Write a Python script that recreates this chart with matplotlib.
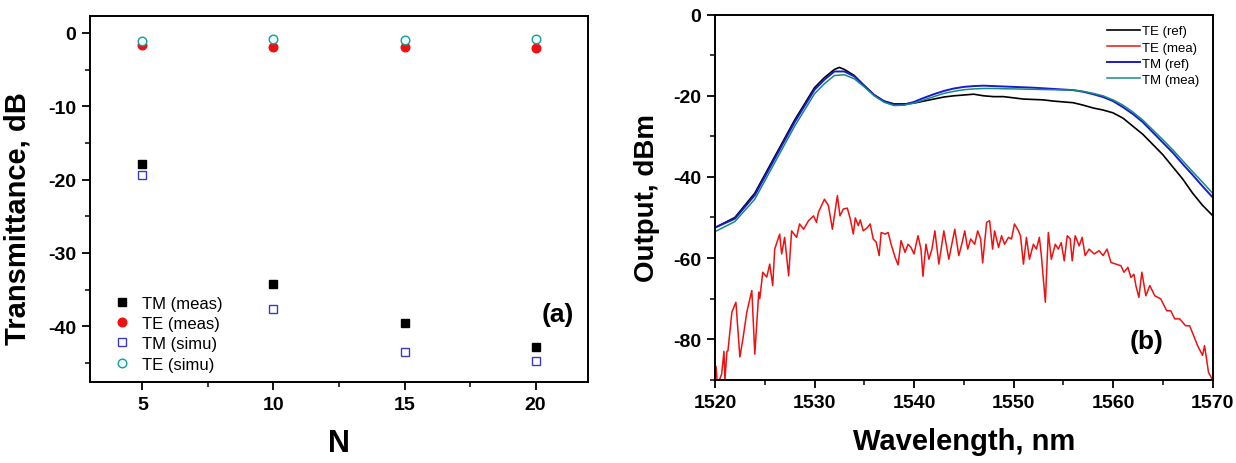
import matplotlib
matplotlib.use("Agg")
import matplotlib.pyplot as plt
from matplotlib.ticker import MultipleLocator

plt.rcParams['font.family'] = ['Liberation Sans', 'DejaVu Sans']
plt.rcParams['axes.unicode_minus'] = False

# ---------------- Panel (a) data ----------------
N = [5, 10, 15, 20]
tm_meas = [-17.9, -34.3, -39.5, -42.8]
te_meas = [-1.6, -1.9, -1.95, -2.1]
tm_simu = [-19.4, -37.6, -43.5, -44.7]
te_simu = [-1.1, -0.8, -0.95, -0.8]

# ---------------- Panel (b) data ----------------
wl_te_ref = [1520, 1522, 1524, 1526, 1528, 1530, 1531, 1532, 1532.5, 1533, 1534, 1535, 1536,
             1537, 1538, 1539, 1540, 1541, 1542, 1543, 1544, 1545, 1546, 1547, 1548, 1549,
             1550, 1551, 1552, 1553, 1554, 1555, 1556, 1557, 1558, 1559, 1560, 1561, 1562,
             1563, 1564, 1565, 1566, 1567, 1568, 1569, 1570]
te_ref = [-52.5, -50.0, -44.0, -35.0, -26.0, -18.0, -15.5, -13.5, -13.0, -13.5, -15.0, -17.5, -19.8,
          -21.3, -22.0, -22.0, -21.8, -21.3, -20.8, -20.3, -20.0, -19.8, -19.6, -20.0, -20.2, -20.2,
          -20.5, -20.8, -20.9, -21.0, -21.3, -21.5, -21.7, -22.3, -23.0, -23.5, -24.2, -25.5, -27.5,
          -29.5, -32.0, -34.5, -37.5, -40.5, -44.0, -47.0, -49.5]

wl_tm = [1520, 1522, 1524, 1526, 1528, 1530, 1531, 1532, 1533, 1534, 1535, 1536, 1537, 1538,
         1539, 1540, 1541, 1542, 1543, 1544, 1545, 1546, 1547, 1548, 1549, 1550, 1552, 1554,
         1556, 1557, 1558, 1559, 1560, 1561, 1562, 1563, 1564, 1565, 1566, 1567, 1568, 1569, 1570]
tm_ref = [-52.5, -50.3, -44.5, -35.5, -26.5, -18.5, -16.0, -14.0, -14.0, -15.2, -17.5, -19.8, -21.4, -22.2,
          -22.2, -21.5, -20.5, -19.6, -18.8, -18.2, -17.8, -17.6, -17.5, -17.6, -17.7, -17.8, -18.0, -18.3,
          -18.6, -19.0, -19.6, -20.3, -21.3, -22.8, -24.5, -26.5, -29.0, -31.5, -34.0, -36.8, -39.5, -42.3, -45.0]
tm_mea = [-53.5, -51.0, -45.5, -36.5, -27.5, -19.5, -17.0, -15.0, -14.8, -15.8, -17.8, -20.0, -21.6, -22.4,
          -22.3, -21.8, -21.0, -20.2, -19.4, -18.9, -18.5, -18.3, -18.2, -18.2, -18.25, -18.3, -18.4, -18.5,
          -18.6, -18.9, -19.4, -20.0, -21.0, -22.3, -24.0, -26.0, -28.4, -30.8, -33.3, -36.0, -38.7, -41.3, -44.0]

wl_te_mea = [1520.0, 1520.1, 1520.2, 1520.45, 1520.67, 1520.9, 1521.0, 1521.2, 1521.3, 1521.7,
             1522.1, 1522.5, 1522.8, 1523.2, 1523.7, 1524.0, 1524.4, 1524.5, 1524.8, 1525.2,
             1525.5, 1525.8, 1526.0, 1526.5, 1526.7, 1527.0, 1527.4, 1527.7, 1528.2, 1528.5,
             1528.9, 1529.4, 1529.9, 1530.2, 1530.4, 1531.0, 1531.4, 1531.8, 1532.3,
             1532.56, 1532.9, 1533.3, 1533.6, 1533.9, 1534.1, 1534.4, 1534.6, 1534.9, 1535.3,
             1535.6, 1535.9, 1536.2, 1536.5, 1536.7, 1537.1, 1537.4, 1537.7, 1538.1, 1538.4,
             1538.7, 1539.1, 1539.4, 1539.7, 1540.0, 1540.4, 1540.7, 1540.9, 1541.2, 1541.5,
             1541.8, 1542.1, 1542.5, 1543.0, 1543.5, 1543.8, 1544.1, 1544.5, 1544.8, 1545.1,
             1545.4, 1545.7, 1546.1, 1546.4, 1546.7, 1546.9, 1547.3,
             1547.6, 1547.9, 1548.1, 1548.5, 1548.8, 1549.1, 1549.5, 1549.8, 1550.1, 1550.5,
             1550.7, 1551.0, 1551.3, 1551.6, 1552.0, 1552.3, 1552.6, 1552.8, 1553.2, 1553.5,
             1553.8, 1554.2, 1554.5, 1554.8, 1555.1, 1555.4, 1555.7, 1555.9, 1556.2, 1556.6,
             1556.9, 1557.2, 1557.6, 1558.1, 1558.6, 1559.0, 1559.4, 1559.8, 1560.3, 1560.8,
             1561.1, 1561.5, 1561.8, 1562.1, 1562.3, 1562.6, 1562.9,
             1563.3, 1563.7, 1564.2, 1564.8, 1565.4, 1565.8, 1566.2, 1566.7, 1567.3, 1567.7,
             1568.1, 1568.5, 1569.0, 1569.2, 1569.6, 1570.0]
te_mea = [-90.0, -86.7, -90.0, -90.0, -88.6, -83.0, -90.0, -83.0, -82.9, -73.3,
          -70.9, -84.4, -80.0, -73.3, -68.0, -83.7, -68.4, -70.0, -63.5, -64.7,
          -61.5, -66.8, -57.8, -54.1, -59.0, -54.9, -64.4, -53.3, -54.9, -51.6,
          -52.9, -50.8, -49.6, -51.2, -48.7, -45.5, -47.1, -52.9, -44.6,
          -49.6, -47.9, -47.7, -50.4, -54.1, -50.1, -52.0, -50.6, -53.3, -52.5,
          -51.6, -55.3, -56.1, -59.4, -53.7, -54.1, -53.7, -56.6, -59.8, -61.7,
          -55.7, -58.6, -56.6, -57.4, -59.0, -54.5, -57.8, -64.5, -56.6, -60.3,
          -57.8, -53.3, -61.5, -53.3, -60.3, -56.6, -52.9, -59.4, -56.6, -53.3,
          -57.8, -55.3, -56.6, -53.3, -55.3, -61.2, -51.2,
          -50.8, -57.8, -53.3, -57.4, -54.5, -56.6, -54.9, -55.3, -51.6, -53.3,
          -54.5, -61.5, -54.9, -60.3, -56.6, -57.8, -54.9, -59.4, -70.9, -53.7,
          -60.3, -56.6, -57.8, -56.2, -60.7, -54.5, -55.3, -60.7, -54.5, -57.0,
          -54.9, -59.4, -57.8, -59.0, -58.2, -59.4, -57.8, -61.1, -61.5, -61.9,
          -63.5, -62.3, -64.8, -64.0, -66.8, -69.7, -63.5,
          -69.3, -66.8, -69.3, -70.1, -73.0, -73.0, -75.0, -75.0, -76.7, -76.7,
          -79.1, -81.6, -84.0, -81.6, -88.2, -90.0]

fig = plt.figure(figsize=(12.36, 4.64), dpi=100)
axa = fig.add_axes([90/1236, 81/464, 498/1236, 366/464])
axb = fig.add_axes([715/1236, 83.3/464, 497.5/1236, 365/464])

for ax in (axa, axb):
    for s in ax.spines.values():
        s.set_linewidth(1.4)
    ax.tick_params(which='major', direction='out', length=6, width=1.3, pad=4)
    ax.tick_params(which='minor', direction='out', length=3.5, width=1.1)

# ---- Panel (a)
axa.plot(N, tm_meas, linestyle='none', marker='s', ms=5.5, color='black', label='TM (meas)')
axa.plot(N, te_meas, linestyle='none', marker='o', ms=6.2, color='#ee1111', label='TE (meas)')
axa.plot(N, tm_simu, linestyle='none', marker='s', ms=5.2, mfc='white', mec='#3c3cc0', mew=1.0, label='TM (simu)')
axa.plot(N, te_simu, linestyle='none', marker='o', ms=6.2, mfc='#eaffff', mec='#1a9a9a', mew=1.0, label='TE (simu)')
axa.set_xlim(3, 22)
axa.set_ylim(-47.6, 2.3)
axa.xaxis.set_major_locator(MultipleLocator(5))
axa.xaxis.set_minor_locator(MultipleLocator(2.5))
axa.yaxis.set_major_locator(MultipleLocator(10))
axa.yaxis.set_minor_locator(MultipleLocator(5))
for lab in axa.get_xticklabels() + axa.get_yticklabels():
    lab.set_fontsize(14); lab.set_fontweight('bold')
axa.set_xlabel('N', fontsize=22, fontweight='bold')
axa.set_ylabel('Transmittance, dB', fontsize=21, fontweight='bold')
axa.xaxis.set_label_coords(0.5, -0.125)
axa.yaxis.set_label_coords(-0.118, 0.45)
axa.legend(loc='lower left', bbox_to_anchor=(0.018, -0.008), frameon=False, fontsize=12,
           handletextpad=0.6, labelspacing=0.32, handlelength=1.2, borderpad=0.3)
axa.text(0.94, 0.186, '(a)', transform=axa.transAxes, fontsize=19, fontweight='bold',
         ha='center', va='center')

# ---- Panel (b)
axb.plot(wl_te_ref, te_ref, color='black', lw=1.2, label='TE (ref)')
axb.plot(wl_te_mea, te_mea, color='#ee1111', lw=1.1, label='TE (mea)')
axb.plot(wl_tm, tm_ref, color='#1a1ad0', lw=1.4, label='TM (ref)')
axb.plot(wl_tm, tm_mea, color='#178a80', lw=1.1, label='TM (mea)')
axb.set_xlim(1520, 1570)
axb.set_ylim(-90, 0)
axb.xaxis.set_major_locator(MultipleLocator(10))
axb.xaxis.set_minor_locator(MultipleLocator(5))
axb.yaxis.set_major_locator(MultipleLocator(20))
axb.yaxis.set_minor_locator(MultipleLocator(10))
for lab in axb.get_xticklabels() + axb.get_yticklabels():
    lab.set_fontsize(14); lab.set_fontweight('bold')
axb.set_xlabel('Wavelength, nm', fontsize=21, fontweight='bold')
axb.set_ylabel('Output, dBm', fontsize=20, fontweight='bold')
axb.xaxis.set_label_coords(0.5, -0.13)
axb.yaxis.set_label_coords(-0.11, 0.5)
axb.legend(loc='upper right', bbox_to_anchor=(0.995, 1.0), frameon=False, fontsize=9.5,
           handletextpad=0.2, labelspacing=0.3, handlelength=2.5, borderpad=0.3)
axb.text(0.868, 0.107, '(b)', transform=axb.transAxes, fontsize=19, fontweight='bold',
         ha='center', va='center')

fig.savefig('out.png', dpi=100)
